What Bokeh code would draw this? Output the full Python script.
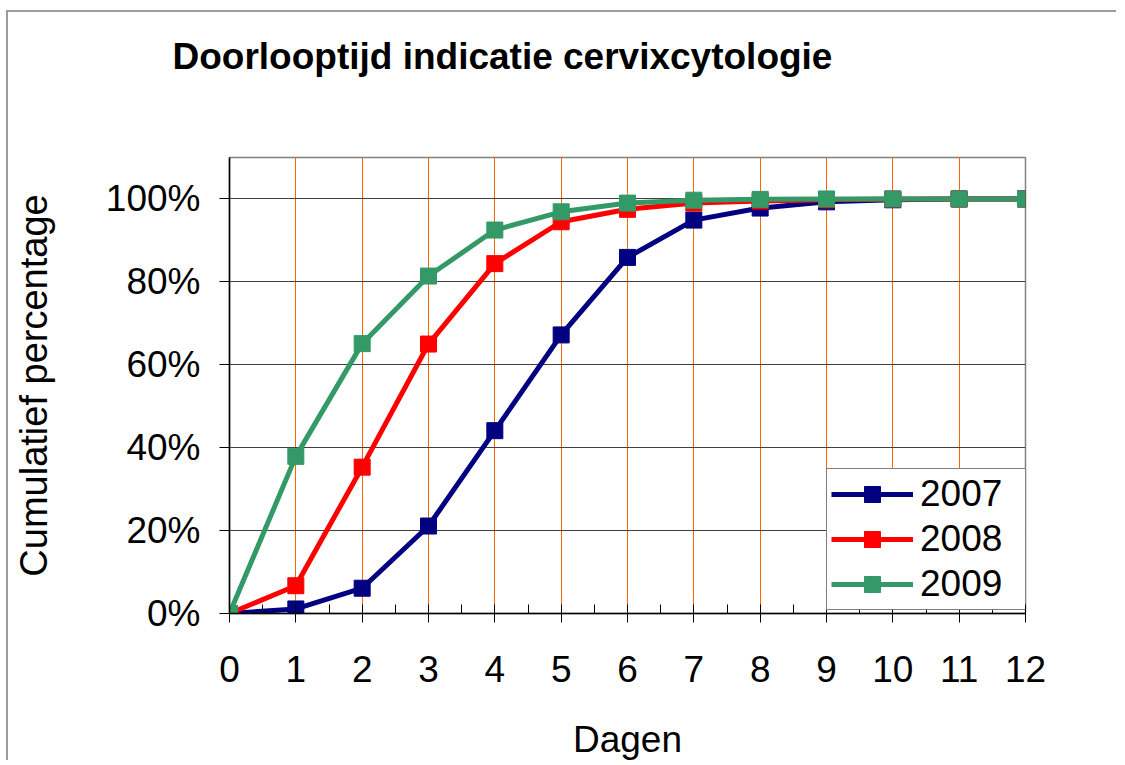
from bokeh.plotting import figure
from bokeh.models import (Range1d, FixedTicker, SingleIntervalTicker,
                          PrintfTickFormatter, Legend, LegendItem, Title)
from bokeh.embed import file_html
from bokeh.resources import INLINE

# ---- data ----
days = [0, 1, 2, 3, 4, 5, 6, 7, 8, 9, 10, 11, 12]
pct_2007 = [0, 1.1, 6.1, 21.1, 44.1, 67.2, 85.9, 94.9, 97.8, 99.3, 99.8, 100, 100]
pct_2008 = [0, 6.7, 35.3, 65.0, 84.4, 94.5, 97.5, 99.0, 99.5, 99.8, 100, 100, 100]
pct_2009 = [0, 37.9, 65.1, 81.4, 92.5, 96.9, 99.0, 99.7, 99.9, 100, 100, 100, 100]
series_labels = ["2007", "2008", "2009"]
series_values = [pct_2007, pct_2008, pct_2009]
series_colors = ["#000080", "#FF0000", "#339966"]
y_ticks = [0, 20, 40, 60, 80, 100]

title_text = "Doorlooptijd indicatie cervixcytologie"
x_label = "Dagen"
y_label = "Cumulatief percentage"

FONT = "Liberation Sans"
FS = "37px"

p = figure(width=1110, height=750, output_backend="svg", toolbar_location=None,
           x_range=Range1d(0, 12), y_range=Range1d(0, 110),
           min_border_left=221, min_border_right=93,
           min_border_top=145, min_border_bottom=149,
           title=None)
p.styles = {"border-top": "2px solid #9c9c9c", "border-left": "2px solid #9c9c9c",
            "margin-top": "10px", "margin-left": "6px"}
p.background_fill_color = "white"
p.border_fill_color = "white"
p.outline_line_color = "#808080"
p.outline_line_width = 1.5

# empty spacer panel between frame and title, then the title above it
spacer = Title(text=" ", text_font=FONT, text_font_size="20px",
               vertical_align="top", standoff=50)
p.add_layout(spacer, "above")
main_title = Title(text=title_text, text_font=FONT, text_font_size="37px",
                   text_font_style="bold", text_color="black",
                   align="left", offset=-57, vertical_align="top", standoff=10)
p.add_layout(main_title, "above")

# x axis
xa = p.xaxis[0]
xa.ticker = SingleIntervalTicker(interval=1, num_minor_ticks=2)
xa.axis_line_color = "black"
xa.axis_line_width = 1.5
xa.major_tick_out = 9
xa.major_tick_in = 0
xa.minor_tick_in = 9
xa.minor_tick_out = 0
xa.major_tick_line_color = "black"
xa.minor_tick_line_color = "black"
xa.major_label_text_font = FONT
xa.major_label_text_font_size = FS
xa.major_label_text_color = "black"
xa.major_label_standoff = 33
xa.axis_label = x_label
xa.axis_label_text_font = FONT
xa.axis_label_text_font_size = FS
xa.axis_label_text_font_style = "normal"
xa.axis_label_text_color = "black"
xa.axis_label_standoff = 34

# y axis
ya = p.yaxis[0]
ya.ticker = FixedTicker(ticks=y_ticks)
ya.formatter = PrintfTickFormatter(format="%d%%")
ya.axis_line_color = "black"
ya.axis_line_width = 1.5
ya.major_tick_out = 10
ya.major_tick_in = 0
ya.minor_tick_line_color = None
ya.major_tick_line_color = "black"
ya.major_label_text_font = FONT
ya.major_label_text_font_size = FS
ya.major_label_text_color = "black"
ya.major_label_standoff = 19
ya.axis_label = y_label
ya.axis_label_text_font = FONT
ya.axis_label_text_font_size = "38px"
ya.axis_label_text_font_style = "normal"
ya.axis_label_text_color = "black"
ya.axis_label_standoff = 48

# grids
p.xgrid.ticker = FixedTicker(ticks=days[1:])
p.xgrid.grid_line_color = "#FF6600"
p.xgrid.grid_line_width = 1
p.ygrid.ticker = FixedTicker(ticks=y_ticks[1:])
p.ygrid.grid_line_color = "#404040"
p.ygrid.grid_line_width = 1

items = []
for lab, vals, col in zip(series_labels, series_values, series_colors):
    rl = p.line(days, vals, line_color=col, line_width=5)
    rs = p.scatter(days, vals, marker="square", size=16, fill_color=col, line_color=col)
    items.append(LegendItem(label=lab, renderers=[rl, rs]))

legend = Legend(items=items, location=(597, 3))
legend.padding = 4
legend.spacing = 3
legend.margin = 0
legend.glyph_width = 82
legend.glyph_height = 40
legend.label_height = 40
legend.label_width = 104
legend.label_standoff = 7
legend.label_text_font = FONT
legend.label_text_font_size = FS
legend.label_text_color = "black"
legend.border_line_color = "black"
legend.border_line_width = 1.5
legend.background_fill_color = "white"
legend.background_fill_alpha = 1
p.add_layout(legend, "center")

open("out.html", "w").write(file_html(p, INLINE))
